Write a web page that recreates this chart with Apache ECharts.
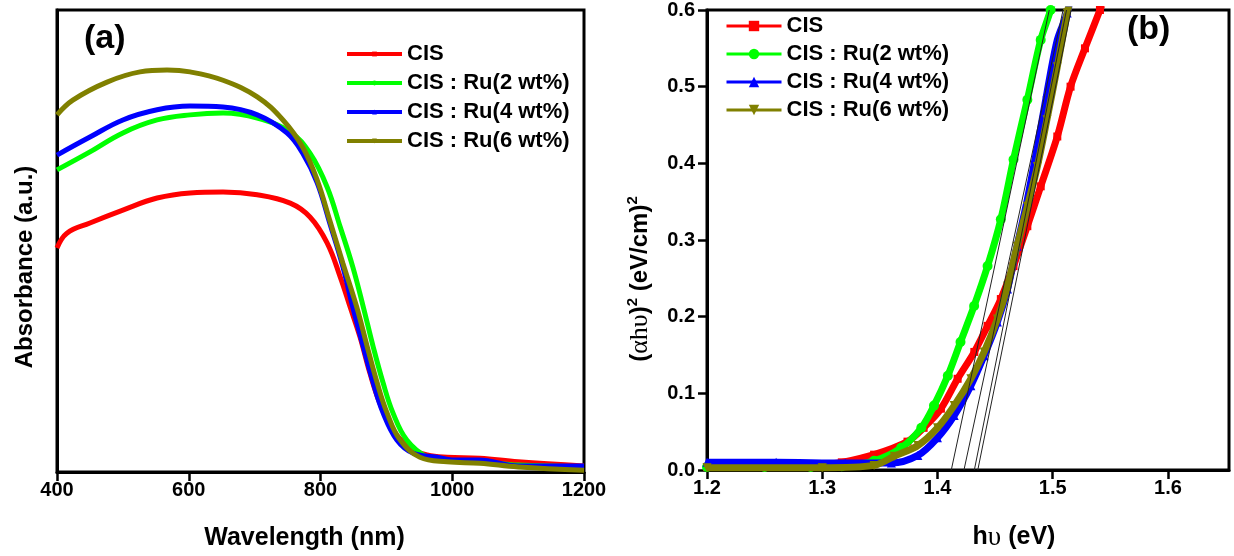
<!DOCTYPE html>
<html><head><meta charset="utf-8">
<script src="https://cdn.jsdelivr.net/npm/echarts@6/dist/echarts.min.js"></script>
<style>
html,body{margin:0;padding:0;background:#fff;}
#pa{position:absolute;left:0;top:0;width:617px;height:556px;}
#pb{position:absolute;left:617px;top:0;width:617px;height:556px;}
</style>
</head><body><div id="pa"></div><div id="pb"></div>
<script>
// ---------- shared ----------
const seriesNames = ['CIS', 'CIS : Ru(2 wt%)', 'CIS : Ru(4 wt%)', 'CIS : Ru(6 wt%)'];
const seriesColors = ['#ff0000', '#00ff00', '#0000ff', '#808000'];
const seriesSymbols = ['rect', 'circle', 'triangle', 'triangle'];
const seriesSymbolRotate = [0, 0, 0, 180];

// ---------- panel (a): absorbance vs wavelength ----------
const wlTicks = [400, 600, 800, 1000, 1200];
const absCIS = [[400,0.485],[415,0.517],[450,0.539],[500,0.567],[552,0.593],[602,0.604],[652,0.606],[704,0.600],[754,0.582],[784,0.552],[810,0.496],[830,0.422],[845,0.357],[860,0.292],[875,0.214],[890,0.149],[910,0.091],[936,0.052],[962,0.037],[992,0.032],[1042,0.030],[1100,0.022],[1200,0.013]];
const absRu2 = [[400,0.654],[450,0.693],[500,0.734],[552,0.762],[602,0.773],[652,0.777],[704,0.766],[754,0.736],[784,0.690],[810,0.617],[830,0.530],[849,0.444],[865,0.357],[880,0.271],[895,0.193],[910,0.128],[931,0.069],[962,0.032],[992,0.024],[1042,0.022],[1100,0.015],[1200,0.011]];
const absRu4 = [[400,0.686],[450,0.725],[500,0.762],[552,0.784],[602,0.792],[652,0.790],[704,0.773],[749,0.734],[773,0.690],[795,0.626],[814,0.539],[834,0.444],[849,0.357],[865,0.271],[880,0.193],[895,0.128],[916,0.069],[940,0.041],[977,0.032],[1000,0.026],[1040,0.026],[1100,0.013],[1200,0.013]];
const absRu6 = [[400,0.773],[424,0.805],[476,0.844],[526,0.866],[567,0.870],[602,0.866],[652,0.848],[704,0.812],[743,0.762],[773,0.703],[795,0.632],[814,0.545],[834,0.452],[855,0.357],[871,0.271],[886,0.193],[901,0.128],[921,0.069],[951,0.032],[992,0.022],[1042,0.019],[1100,0.011],[1200,0.004]];

// ---------- panel (b): Tauc plot ----------
const evTicks = [1.2, 1.3, 1.4, 1.5, 1.6];
const taucCIS = [[1.20,0.004],[1.25,0.004],[1.28,0.005],[1.30,0.007],[1.317,0.010],[1.345,0.020],[1.374,0.037],[1.388,0.055],[1.403,0.080],[1.4175,0.119],[1.432,0.154],[1.4435,0.188],[1.455,0.223],[1.466,0.266],[1.478,0.318],[1.4896,0.370],[1.504,0.435],[1.5155,0.500],[1.528,0.550],[1.541,0.600],[1.546,0.620]];
const taucRu2 = [[1.20,0.004],[1.25,0.004],[1.29,0.004],[1.317,0.005],[1.345,0.012],[1.3685,0.029],[1.386,0.055],[1.397,0.084],[1.409,0.123],[1.420,0.167],[1.4318,0.214],[1.4435,0.266],[1.455,0.327],[1.466,0.405],[1.478,0.483],[1.4896,0.561],[1.4982,0.600],[1.503,0.630]];
const taucRu4 = [[1.20,0.010],[1.26,0.010],[1.32,0.009],[1.36,0.009],[1.383,0.019],[1.400,0.042],[1.4145,0.071],[1.429,0.110],[1.4405,0.149],[1.452,0.193],[1.4608,0.236],[1.469,0.292],[1.478,0.353],[1.4867,0.422],[1.495,0.492],[1.504,0.561],[1.5126,0.596],[1.516,0.620]];
const taucRu6 = [[1.20,0.003],[1.30,0.003],[1.345,0.006],[1.3625,0.018],[1.383,0.032],[1.400,0.055],[1.4145,0.084],[1.429,0.119],[1.4405,0.154],[1.452,0.197],[1.4608,0.240],[1.469,0.292],[1.478,0.344],[1.4867,0.396],[1.495,0.457],[1.504,0.526],[1.5126,0.596],[1.516,0.620]];
const tangentLines = [
  [[1.412,0],[1.497,0.6]],
  [[1.423,0],[1.509,0.6]],
  [[1.432,0],[1.512,0.6]],
  [[1.435,0],[1.516,0.6]]
];

const FONT = "'Liberation Sans', Arial, Helvetica, sans-serif";
const SERIF = "'Liberation Serif', 'DejaVu Serif', serif";

function axisCommon() {
  return {
    axisLine: { show: true, lineStyle: { color: '#000', width: 3 } },
    axisTick: { show: true, inside: false, length: 9, lineStyle: { color: '#000', width: 2.5 } },
    axisLabel: { color: '#000', fontFamily: FONT, fontWeight: 'bold', fontSize: 20, formatter: v => String(v) },
    splitLine: { show: false }
  };
}

// ---------- chart a ----------
const chartA = echarts.init(document.getElementById('pa'), null, { renderer: 'canvas' });
const absData = [absCIS, absRu2, absRu4, absRu6];
chartA.setOption({
  animation: false,
  backgroundColor: '#fff',
  grid: { left: 57, top: 10, width: 527, height: 462, show: true, borderColor: '#000', borderWidth: 3, backgroundColor: 'transparent' },
  legend: {
    data: seriesNames, left: 340, top: 38, orient: 'vertical',
    itemWidth: 55, itemHeight: 6, itemGap: 7,
    textStyle: { fontFamily: FONT, fontWeight: 'bold', fontSize: 22, color: '#000' },
    lineStyle: { width: 4 }
  },
  graphic: [{ type: 'text', left: 84, top: 22, style: { text: '(a)', font: "bold 34px " + FONT, fill: '#000' } }],
  xAxis: Object.assign(axisCommon(), {
    type: 'value', min: wlTicks[0], max: wlTicks[wlTicks.length - 1], interval: 200,
    name: 'Wavelength (nm)', nameLocation: 'middle', nameGap: 54,
    nameTextStyle: { fontFamily: FONT, fontWeight: 'bold', fontSize: 25, color: '#000', padding: [0, 32, 0, 0] }
  }),
  yAxis: {
    type: 'value', min: 0, max: 1,
    axisLine: { show: true, lineStyle: { color: '#000', width: 3 } },
    axisTick: { show: false }, axisLabel: { show: false }, splitLine: { show: false },
    name: 'Absorbance (a.u.)', nameLocation: 'middle', nameGap: 20,
    nameTextStyle: { fontFamily: FONT, fontWeight: 'bold', fontSize: 24, color: '#000', padding: [0, 52, 0, 0] }
  },
  series: absData.map((d, i) => ({
    name: seriesNames[i], type: 'line', data: d, smooth: 0.4,
    symbol: seriesSymbols[i], symbolRotate: seriesSymbolRotate[i], symbolSize: 4, showSymbol: false,
    lineStyle: { color: seriesColors[i], width: 5 }, itemStyle: { color: seriesColors[i] }
  }))
});

// ---------- chart b ----------
const chartB = echarts.init(document.getElementById('pb'), null, { renderer: 'canvas' });
const taucData = [taucCIS, taucRu2, taucRu4, taucRu6];
const symSizes = [8, 10, 9, 9];
const seriesB = taucData.map((d, i) => ({
  name: seriesNames[i], type: 'line', data: d, smooth: 0.3,
  symbol: seriesSymbols[i], symbolRotate: seriesSymbolRotate[i], symbolSize: symSizes[i], showSymbol: true,
  lineStyle: { color: seriesColors[i], width: 7 }, itemStyle: { color: seriesColors[i] }, clip: true, z: 2 + i
}));
tangentLines.forEach((seg, k) => {
  seriesB.push({
    name: 'tangent' + k, type: 'line', data: seg, symbol: 'none', silent: true, clip: true, z: 10,
    lineStyle: { color: '#222', width: 1 }
  });
});
chartB.setOption({
  animation: false,
  backgroundColor: '#fff',
  grid: { left: 88, top: 10, width: 524, height: 462, show: true, borderColor: '#000', borderWidth: 3, backgroundColor: 'transparent' },
  legend: {
    data: seriesNames, left: 103, top: 10, orient: 'vertical',
    itemWidth: 55, itemHeight: 13, itemGap: 6,
    textStyle: { fontFamily: FONT, fontWeight: 'bold', fontSize: 22, color: '#000' },
    lineStyle: { width: 3 }
  },
  graphic: [{ type: 'text', left: 510, top: 13, style: { text: '(b)', font: "bold 34px " + FONT, fill: '#000' } }],
  xAxis: Object.assign(axisCommon(), {
    type: 'value', min: 1.2, max: 1.653,
    axisTick: { show: true, inside: false, length: 9, lineStyle: { color: '#000', width: 2.5 }, customValues: evTicks },
    axisLabel: { color: '#000', fontFamily: FONT, fontWeight: 'bold', fontSize: 20, customValues: evTicks, formatter: v => v.toFixed(1) },
    name: '{s|h}{g|υ}{s| (eV)}', nameLocation: 'middle', nameGap: 54,
    nameTextStyle: { padding: [0, 0, 0, 92], rich: {
      s: { fontFamily: FONT, fontWeight: 'bold', fontSize: 25, color: '#000' },
      g: { fontFamily: SERIF, fontWeight: 'normal', fontSize: 27, color: '#000' }
    } }
  }),
  yAxis: Object.assign(axisCommon(), {
    type: 'value', min: 0, max: 0.6, interval: 0.1,
    axisLabel: { color: '#000', fontFamily: FONT, fontWeight: 'bold', fontSize: 20, margin: 12, formatter: v => v.toFixed(1) },
    name: '{s|(}{g|αhυ}{s|)}{sup|2}{s| (eV/cm)}{sup|2}', nameLocation: 'middle', nameGap: 52,
    nameTextStyle: { padding: [0, 78, 0, 0], rich: {
      s: { fontFamily: FONT, fontWeight: 'bold', fontSize: 24, color: '#000', lineHeight: 30 },
      g: { fontFamily: SERIF, fontWeight: 'normal', fontSize: 26, color: '#000', lineHeight: 30 },
      sup: { fontFamily: FONT, fontWeight: 'bold', fontSize: 15, color: '#000', verticalAlign: 'top', lineHeight: 30 }
    } }
  }),
  series: seriesB
});
</script>
</body></html>
